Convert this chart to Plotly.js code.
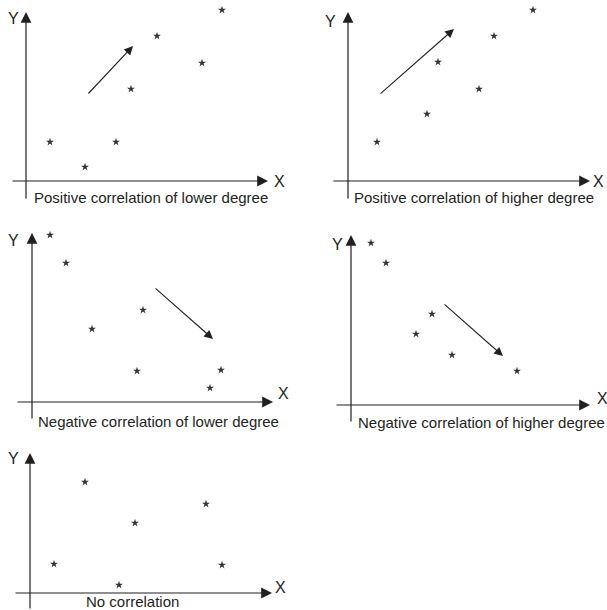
<!DOCTYPE html>
<html><head><meta charset="utf-8">
<script src="https://cdn.plot.ly/plotly-3.0.1.min.js"></script>
<style>html,body{margin:0;padding:0;background:#fff}</style>
</head><body><div id="chart" style="width:607px;height:610px"></div>
<script>
// ---- data (arbitrary units, origin at axis crossing) ----
const captions = [
  "Positive correlation of lower degree",
  "Positive correlation of higher degree",
  "Negative correlation of lower degree",
  "Negative correlation of higher degree",
  "No correlation"
];
const posLowX  = [2.4, 5.9, 9.0, 10.5, 13.1, 17.6, 19.6];
const posLowY  = [3.9, 1.4, 3.9, 9.2, 14.5, 11.8, 17.1];
const posHighX = [2.9, 7.9, 9.0, 13.1, 14.6, 18.5];
const posHighY = [3.9, 6.7, 11.9, 9.2, 14.5, 17.1];
const negLowX  = [1.8, 3.4, 6.0, 11.1, 10.5, 18.9, 17.8];
const negLowY  = [16.7, 13.9, 7.3, 9.2, 3.1, 3.2, 1.4];
const negHighX = [2.0, 3.5, 8.1, 6.5, 10.1, 16.6];
const negHighY = [16.2, 14.2, 9.1, 7.1, 5.0, 3.4];
const noCorrX  = [2.4, 5.5, 8.9, 10.5, 17.6, 19.2];
const noCorrY  = [2.9, 11.1, 0.8, 7.0, 8.9, 2.8];
// trend arrows: [tailX, tailY], [headX, headY] (null = none)
const trendTails = [[6.1, 8.6], [3.1, 8.6], [12.2, 11.5], [9.2, 10.2], null];
const trendHeads = [[10.7, 13.5], [10.6, 15.2], [18.1, 6.3], [15.2, 4.9], null];

const seriesX = [posLowX, posHighX, negLowX, negHighX, noCorrX];
const seriesY = [posLowY, posHighY, negLowY, negHighY, noCorrY];

// ---- layout geometry ----
const W = 607, H = 610, S = 10; // px per unit
const panels = [
  {box:[0,0,300,215],   origin:[26,181],  xEnd:[-1.5,24.2], yEnd:[-1.9,16.9], xl:[25.3,0.0], yl:[-1.3,16.3], cap:[0.6,-1.6,'left']},
  {box:[305,0,607,215], origin:[348,181], xEnd:[-1.6,24.2], yEnd:[-1.9,16.9], xl:[25.0,0.0], yl:[-1.8,16.0], cap:[0.4,-1.6,'left']},
  {box:[0,215,300,430], origin:[32,402],  xEnd:[-1.6,24.1], yEnd:[-1.8,16.9], xl:[25.1,0.9], yl:[-1.9,16.2], cap:[0.4,-1.9,'left']},
  {box:[305,215,607,430],origin:[351,405],xEnd:[-1.6,23.9], yEnd:[-1.8,17.0], xl:[25.1,0.7], yl:[-1.4,16.1], cap:[0.5,-1.7,'left']},
  {box:[0,430,300,610], origin:[30,593],  xEnd:[-1.6,24.2], yEnd:[-1.7,14.0], xl:[25.0,0.6], yl:[-1.7,13.5], cap:[10.2,-0.8,'center']}
];

const ink = '#231f20';
const layout = {
  width: W, height: H,
  margin: {l:0, r:0, t:0, b:0},
  paper_bgcolor: '#fff', plot_bgcolor: 'rgba(0,0,0,0)',
  showlegend: false,
  font: {family: 'Liberation Sans, Arial, sans-serif', color: ink},
  annotations: []
};
const traces = [];

panels.forEach((p, i) => {
  const n = i + 1;
  const xa = 'xaxis' + (n === 1 ? '' : n), ya = 'yaxis' + (n === 1 ? '' : n);
  const xr = 'x' + (n === 1 ? '' : n), yr = 'y' + (n === 1 ? '' : n);
  const [x0, y0, x1, y1] = p.box, [ox, oy] = p.origin;
  layout[xa] = {domain:[x0/W, x1/W], range:[(x0-ox)/S, (x1-ox)/S], visible:false, fixedrange:true, anchor: yr};
  layout[ya] = {domain:[1-y1/H, 1-y0/H], range:[(oy-y1)/S, (oy-y0)/S], visible:false, fixedrange:true, anchor: xr};

  traces.push({
    type:'scatter', mode:'markers', x: seriesX[i], y: seriesY[i], xaxis: xr, yaxis: yr,
    marker:{symbol:'star', size:6, color:'#333'}, cliponaxis:false, hoverinfo:'skip'
  });

  const A = layout.annotations;
  // x axis
  A.push({xref:xr, yref:yr, axref:xr, ayref:yr, x:p.xEnd[1], y:0, ax:p.xEnd[0], ay:0, text:'',
    showarrow:true, arrowhead:2, arrowsize:1.8, arrowwidth:1.2, arrowcolor:ink, standoff:0});
  // y axis
  A.push({xref:xr, yref:yr, axref:xr, ayref:yr, x:0, y:p.yEnd[1], ax:0, ay:p.yEnd[0], text:'',
    showarrow:true, arrowhead:2, arrowsize:1.8, arrowwidth:1.2, arrowcolor:ink, standoff:0});
  // axis labels
  A.push({xref:xr, yref:yr, x:p.xl[0], y:p.xl[1], text:'X', showarrow:false, font:{size:16, color:ink}});
  A.push({xref:xr, yref:yr, x:p.yl[0], y:p.yl[1], text:'Y', showarrow:false, font:{size:16, color:ink}});
  // caption
  A.push({xref:xr, yref:yr, x:p.cap[0], y:p.cap[1], xanchor:p.cap[2], text:captions[i], showarrow:false, font:{size:15, color:ink}});
  // trend arrow
  if (trendTails[i]) {
    A.push({xref:xr, yref:yr, axref:xr, ayref:yr, x:trendHeads[i][0], y:trendHeads[i][1],
      ax:trendTails[i][0], ay:trendTails[i][1], text:'', showarrow:true, arrowhead:2,
      arrowsize:1.6, arrowwidth:1.1, arrowcolor:ink, standoff:0});
  }
});

Plotly.newPlot('chart', traces, layout, {staticPlot:true, displayModeBar:false});
</script></body></html>
